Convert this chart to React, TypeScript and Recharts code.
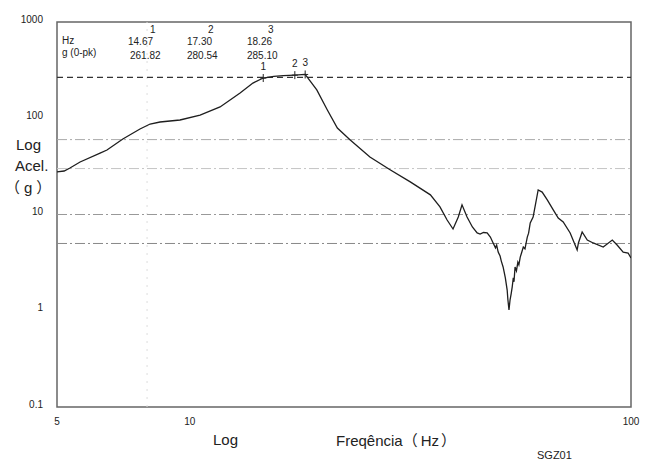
import {
  LineChart,
  Line,
  XAxis,
  YAxis,
  ReferenceLine,
  ReferenceArea,
  ReferenceDot,
} from 'recharts'

// frequência (Hz) e aceleração (g 0-pk)
const FREQ = [
  5.0, 5.19, 5.35, 5.64, 6.26, 6.49, 7.05, 7.71, 8.13, 8.56, 9.5, 10.55, 11.71, 13.0, 13.9,
  14.67, 15.5, 16.3, 17.3, 18.26, 19.4, 20.5, 21.6, 23.1, 25.6, 28.5, 31.6, 35.1, 36.9, 38.3,
  39.5, 40.6, 41.4, 42.5, 43.7, 44.8, 45.5, 46.3, 47.2, 48.0, 48.7, 49.3, 49.6, 50.0, 50.5,
  50.8, 51.3, 51.6, 51.9, 52.4, 52.6, 52.9, 53.2, 53.5, 53.8, 54.1, 54.3, 54.6, 55.0, 55.4,
  55.7, 56.1, 56.5, 57.0, 57.5, 58.2, 58.6, 59.1, 60.0, 61.6, 62.9, 64.6, 66.7, 68.4, 70.2,
  72.8, 74.7, 75.5, 76.0, 77.5, 79.6, 82.1, 86.5, 90.7, 93.0, 96.0, 98.5, 100,
]
const ACEL = [
  27.7, 28.3, 30.4, 35.1, 43.5, 46.8, 60.8, 77.3, 87.1, 91.4, 95.9, 108, 131, 183, 232,
  261.82, 272, 277, 280.54, 285.1, 197, 122, 79.2, 59.4, 39.5, 29.0, 21.8, 16.0, 12.0, 8.77,
  7.07, 9.42, 12.6, 9.42, 7.42, 6.43, 6.27, 6.5, 6.43, 5.83, 5.06, 4.5, 4.8, 4.07, 3.7,
  3.3, 2.85, 2.5, 2.2, 1.64, 1.3, 1.02, 1.3, 1.5, 1.77, 2.2, 2.0, 2.85, 2.6, 3.2,
  3.0, 3.61, 4.0, 4.59, 4.4, 5.83, 6.4, 8.17, 9.42, 18.0, 17.1, 14.2, 11.1, 9.2, 8.36,
  6.43, 4.82, 4.28, 5.06, 6.58, 5.43, 5.06, 4.59, 5.43, 4.82, 4.07, 3.98, 3.53,
]

const X_TICKS = [5, 10, 100]
const Y_TICKS = [0.1, 1, 10, 100, 1000]

// linhas de nível horizontais
const NIVEIS = [60, 30, 10, 5]
const NIVEL_CORES = ['#aaa', '#c4c4c4', '#999', '#888']
const NIVEL_PICO = 266

// marcadores 1, 2, 3
const MARC_NOMES = ['1', '2', '3']
const MARC_HZ = [14.67, 17.3, 18.26]
const MARC_G = [261.82, 280.54, 285.1]

const data = FREQ.map((f, i) => ({ freq: f, acel: ACEL[i] }))

const FONTE = '"Liberation Sans", Arial, sans-serif'
const FONTE_CJK = '"Noto Sans CJK JP", "Noto Sans CJK SC", sans-serif'

const Cruz = (props: any) => {
  const { cx, cy } = props
  return (
    <g stroke="#222" strokeWidth={1}>
      <line x1={cx} y1={cy - 4} x2={cx} y2={cy + 4} />
      <line x1={cx - 3} y1={cy} x2={cx + 3} y2={cy} />
    </g>
  )
}

const txt = (s: any, left: number, cy: number, size: number) => (
  <div
    style={{
      position: 'absolute',
      left,
      top: cy - size / 2,
      fontSize: size,
      lineHeight: `${size}px`,
      whiteSpace: 'nowrap',
      color: '#222',
    }}
  >
    {s}
  </div>
)

// parênteses de largura total
const P = ({ c, ml = 0 }: { c: string; ml?: number }) => (
  <span style={{ fontFamily: FONTE_CJK, marginLeft: ml }}>{c}</span>
)

export default function App() {
  return (
    <div style={{ position: 'absolute', left: 0, top: 0, width: 650, height: 461, background: '#fff', fontFamily: FONTE }}>
      <LineChart width={650} height={461} data={data} margin={{ top: 22, right: 19, bottom: 24, left: 17 }}>
        <XAxis
          dataKey="freq"
          type="number"
          scale="log"
          domain={[5, 100]}
          ticks={X_TICKS}
          allowDataOverflow
          axisLine={false}
          tickLine={false}
          tickMargin={5}
          tick={{ fill: '#222', fontSize: 10, fontFamily: FONTE }}
        />
        <YAxis
          type="number"
          scale="log"
          domain={[0.1, 1000]}
          ticks={Y_TICKS}
          allowDataOverflow
          width={40}
          axisLine={false}
          tickLine={false}
          tickMargin={8}
          tick={{ fill: '#222', fontSize: 10, fontFamily: FONTE, dy: -3 }}
        />

        <ReferenceLine x={8} stroke="#ddd" strokeDasharray="2 6" />
        {NIVEIS.map((v, i) => (
          <ReferenceLine key={v} y={v} stroke={NIVEL_CORES[i]} strokeDasharray="10 3 2 3" />
        ))}
        <ReferenceLine y={NIVEL_PICO} stroke="#333" strokeWidth={1.2} strokeDasharray="6 4" />

        <ReferenceArea x1={5} x2={100} y1={0.1} y2={1000} fill="none" stroke="#666" strokeWidth={1.5} />

        <Line
          dataKey="acel"
          type="linear"
          stroke="#1e1e1e"
          strokeWidth={1.3}
          dot={false}
          isAnimationActive={false}
        />

        {MARC_NOMES.map((n, i) => (
          <ReferenceDot
            key={n}
            x={MARC_HZ[i]}
            y={MARC_G[i]}
            shape={Cruz}
            label={{ value: n, position: 'top', offset: -2, fontSize: 10, fill: '#222', fontFamily: FONTE }}
          />
        ))}
      </LineChart>

      {/* cabeçalho dos marcadores */}
      {txt('Hz', 62, 41, 10)}
      {txt('g (0-pk)', 62, 53, 10)}
      {MARC_NOMES.map((n, i) => (
        <div key={n}>
          {txt(n, [150, 208, 268][i], 30, 10)}
          {txt(MARC_HZ[i].toFixed(2), [128, 187, 247][i], 42, 10)}
          {txt(MARC_G[i].toFixed(2), [130, 187, 247][i], 56, 10)}
        </div>
      ))}

      {/* títulos dos eixos */}
      {txt('Log', 16, 144, 15)}
      {txt('Acel.', 15, 165, 15)}
      {txt(<><P c="（" /><span style={{ margin: '0 4px' }}>g</span><P c="）" /></>, 5, 186, 15)}
      {txt('Log', 213, 439, 15)}
      {txt(<>Freqência<P c="（" /><span style={{ marginLeft: 3 }}>Hz</span><P c="）" ml={2} /></>, 336, 439, 15)}
      {txt('SGZ01', 537, 455, 11)}
    </div>
  )
}
